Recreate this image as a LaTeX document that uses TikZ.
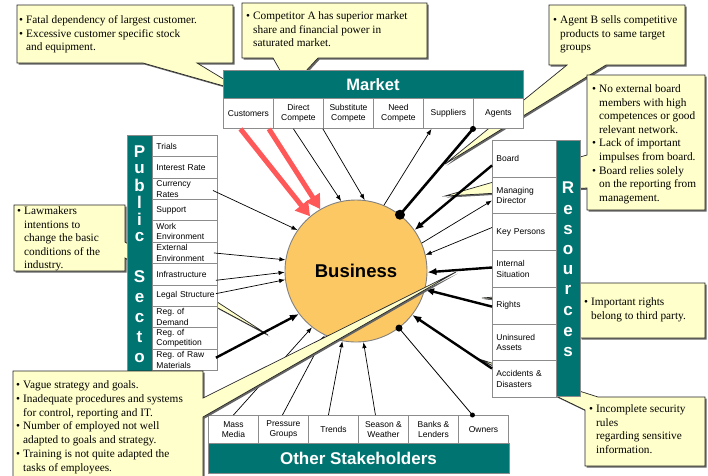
\documentclass[tikz,border=0pt]{standalone}
\usepackage{fontspec}
\setmainfont{Liberation Serif}
\setsansfont{Liberation Sans}
\usetikzlibrary{arrows.meta,calc}
\definecolor{tealbar}{RGB}{0,116,112}
\definecolor{callfill}{RGB}{255,255,204}
\definecolor{bizfill}{RGB}{252,200,100}
\definecolor{redarr}{RGB}{255,88,88}
\definecolor{cellline}{RGB}{140,140,140}
\newcommand\bul{\makebox[7pt][l]{•}}
\newcommand\ind{\hspace*{7pt}}
\frenchspacing
\hyphenpenalty=10000
\tikzset{
  cellbox/.style={draw=cellline, fill=white, line width=0.9pt, inner sep=0pt, anchor=north west,
     font=\sffamily\fontsize{8.5}{10.5}\selectfont, align=center},
  mcell/.style={cellbox, minimum width=50pt, minimum height=30pt},
  pcell/.style={cellbox, minimum width=65pt, minimum height=21.36pt, text width=57pt, align=left, inner xsep=4pt},
  rcell/.style={cellbox, minimum width=64pt, minimum height=36.7pt, text width=56pt, align=left, inner xsep=4pt},
  scell/.style={cellbox, minimum width=50pt, minimum height=28pt},
  bar/.style={draw=cellline, fill=tealbar, line width=0.9pt},
  bartitle/.style={text=white, font=\sffamily\bfseries\fontsize{16.5}{17}\selectfont, inner sep=0pt},
  vlet/.style={text=white, font=\sffamily\bfseries\fontsize{17}{17}\selectfont, inner sep=0pt},
  callout/.style={fill=callfill, draw=black!85, line width=0.7pt},
  callshadow/.style={fill=black!60, draw=none, shift={(1.6,1.6)}},
  ctext/.style={font=\fontsize{11.3}{13.6}\selectfont, align=left, inner sep=0pt, anchor=north west},
  thinarrow/.style={line width=0.7pt, -{Latex[length=6pt,width=4.5pt]}},
  thinplain/.style={line width=0.8pt},
  thickarrow/.style={line width=2.4pt, -{Latex[length=9pt,width=7.5pt]}},
  thickplain/.style={line width=2.6pt},
  redarrow/.style={draw=redarr, line width=5pt, -{Triangle[length=14pt,width=16pt]}},
  dotend/.style={circle, fill=black, inner sep=0pt, minimum size=#1},
}
\begin{document}
\hyphenpenalty=10000
\begin{tikzpicture}[x=1pt,y=-1pt]
\useasboundingbox (0,0) rectangle (708,475);

% ---------- callouts behind the frame ----------
% C1 customers
\path[callshadow] (17,5) -- (233,5) -- (233,63) -- (197,63) -- (245,92) -- (143,63) -- (17,63) -- cycle;
\path[callout] (17,5) -- (233,5) -- (233,63) -- (197,63) -- (245,92) -- (143,63) -- (17,63) -- cycle;
\node[ctext] (t1) at (19,15.5) {\bul Fatal dependency of largest customer.\\\bul Excessive customer specific stock\\\ind and equipment.};
% C2 competitor
\path[callshadow] (242,3) -- (427,3) -- (427,58) -- (318,58) -- (290,88) -- (273,58) -- (242,58) -- cycle;
\path[callout] (242,3) -- (427,3) -- (427,58) -- (318,58) -- (290,88) -- (273,58) -- (242,58) -- cycle;
\node[ctext] (t2) at (246,11.5) {\bul Competitor A has superior market\\\ind share and financial power in\\\ind saturated market.};
% C3 agent
\path[callshadow] (549,5) -- (685,5) -- (685,65) -- (606,65) -- (445,164) -- (567,65) -- (549,65) -- cycle;
\path[callout] (549,5) -- (685,5) -- (685,65) -- (606,65) -- (445,164) -- (567,65) -- (549,65) -- cycle;
\node[ctext] (t3) at (553,15.5) {\bul Agent B sells competitive\\\ind products to same target\\\ind groups};
% C4 board
\path[callshadow] (587,75) -- (705,75) -- (705,210) -- (587,210) -- (587,188) -- (445,196) -- (587,155) -- cycle;
\path[callout] (587,75) -- (705,75) -- (705,210) -- (587,210) -- (587,188) -- (445,196) -- (587,155) -- cycle;
\node[ctext] (t4) at (592,84.5) {\bul No external board\\\ind members with high\\\ind competences or good\\\ind relevant network.\\\bul Lack of important\\\ind impulses from board.\\\bul Board relies solely\\\ind on the reporting from\\\ind management.};
% Lawmakers
\path[callshadow] (14,205) -- (125,205) -- (125,242) -- (268,335) -- (125,258) -- (125,271) -- (14,271) -- cycle;
\path[callout] (14,205) -- (125,205) -- (125,242) -- (268,335) -- (125,258) -- (125,271) -- (14,271) -- cycle;
\node[ctext] (t5) at (17,206.5) {\bul Lawmakers\\\ind intentions to\\\ind change the basic\\\ind conditions of the\\\ind industry.};
% Important rights
\path[callshadow] (580,283) -- (705,283) -- (705,338) -- (580,338) -- (580,303) -- (482,298) -- (580,290) -- cycle;
\path[callout] (580,283) -- (705,283) -- (705,338) -- (580,338) -- (580,303) -- (482,298) -- (580,290) -- cycle;
\node[ctext] (t6) at (584,297.5) {\bul Important rights\\\ind belong to third party.};
% Incomplete security
\path[callshadow] (598,397) -- (705,397) -- (705,466) -- (585,466) -- (585,410) -- (479,359) -- cycle;
\path[callout] (598,397) -- (705,397) -- (705,466) -- (585,466) -- (585,410) -- (479,359) -- cycle;
\node[ctext] (t7) at (589,404.5) {\bul Incomplete security\\\ind rules\\\ind regarding sensitive\\\ind information.};

% ---------- Market ----------
\path[bar] (223,70) rectangle (523,98);
\node[bartitle] (mkt) at (373,84.5) {Market};
\node[mcell] (mk1) at (223,98) {Customers};
\node[mcell] (mk2) at (273,98) {Direct\\Compete};
\node[mcell] (mk3) at (323,98) {Substitute\\Compete};
\node[mcell] (mk4) at (373,98) {Need\\Compete};
\node[mcell] (mk5) at (423,98) {Suppliers};
\node[mcell] (mk6) at (473,98) {Agents};

% ---------- Public sector ----------
\path[bar] (127,135) rectangle (152,400);
\node[pcell] (ps1) at (152,135) {Trials};
\node[pcell] (ps2) at (152,156.36) {Interest Rate};
\node[pcell] (ps3) at (152,177.72) {Currency\\Rates};
\node[pcell] (ps4) at (152,199.08) {Support};
\node[pcell] (ps5) at (152,220.44) {Work\\Environment};
\node[pcell] (ps6) at (152,241.80) {External\\Environment};
\node[pcell] (ps7) at (152,263.16) {Infrastructure};
\node[pcell] (ps8) at (152,284.52) {\mbox{Legal Structure}};
\node[pcell] (ps9) at (152,305.88) {Reg. of\\Demand};
\node[pcell] (ps10) at (152,327.24) {Reg. of\\Competition};
\node[pcell] (ps11) at (152,348.60) {Reg. of Raw\\Materials};
\node[vlet] (pv1) at (139.5,152) {P};
\node[vlet] (pv2) at (139.5,169) {u};
\node[vlet] (pv3) at (139.5,185) {b};
\node[vlet] (pv4) at (139.5,202) {l};
\node[vlet] (pv5) at (139.5,219) {i};
\node[vlet] (pv6) at (139.5,237) {c};
\node[vlet] (pv7) at (139.5,277) {S};
\node[vlet] (pv8) at (139.5,298) {e};
\node[vlet] (pv9) at (139.5,318) {c};
\node[vlet] (pv10) at (139.5,337) {t};
\node[vlet] (pv11) at (139.5,358) {o};

% ---------- Resources ----------
\path[bar] (556,140) rectangle (580,396);
\node[rcell] (rs1) at (492,140) {Board};
\node[rcell] (rs2) at (492,176.7) {Managing\\Director};
\node[rcell] (rs3) at (492,213.4) {Key Persons};
\node[rcell] (rs4) at (492,250.1) {Internal\\Situation};
\node[rcell] (rs5) at (492,286.8) {Rights};
\node[rcell] (rs6) at (492,323.5) {Uninsured\\Assets};
\node[rcell] (rs7) at (492,360.2) {Accidents \&\\Disasters};
\node[vlet] (rv1) at (568,188) {R};
\node[vlet] (rv2) at (568,210) {e};
\node[vlet] (rv3) at (568,230) {s};
\node[vlet] (rv4) at (568,250) {o};
\node[vlet] (rv5) at (568,270) {u};
\node[vlet] (rv6) at (568,290) {r};
\node[vlet] (rv7) at (568,311) {c};
\node[vlet] (rv8) at (568,332) {e};
\node[vlet] (rv9) at (568,352) {s};

% ---------- Other stakeholders ----------
\path[bar] (208,443) rectangle (509,473);
\node[bartitle, font=\sffamily\bfseries\fontsize{17}{18}\selectfont] (oth) at (358.5,458) {Other Stakeholders};
\node[scell] (sh1) at (208,415) {Mass\\Media};
\node[scell] (sh2) at (258,415) {Pressure\\Groups};
\node[scell] (sh3) at (308,415) {Trends};
\node[scell] (sh4) at (358,415) {Season \&\\Weather};
\node[scell] (sh5) at (408,415) {Banks \&\\Lenders};
\node[scell] (sh6) at (458,415) {Owners};

% ---------- Business ----------
\node[circle, draw=gray, fill=bizfill, line width=0.9pt, minimum size=142pt, inner sep=0pt,
      font=\sffamily\bfseries\fontsize{18.5}{20}\selectfont] (biz) at (356,271) {Business};

% ---------- connectors ----------
% market
\draw[redarrow] ([xshift=-8pt]mk1.south) -- (biz.130);
\draw[redarrow] ([xshift=-5pt]mk1.south east) -- (biz.120);
\draw[thinarrow] ([xshift=-5pt]mk2.south) -- (biz.102);
\draw[thinarrow] ([xshift=-1pt]mk2.south east) -- (biz.83);
\draw[thinarrow] (biz.67) -- ([xshift=-17pt]mk5.south);
\draw[thickplain] (mk6.south west) -- (biz.52);
\node[dotend=6pt] (d1) at (mk6.south west) {};
\node[dotend=10pt] (d2) at (biz.52) {};
% resources
\draw[thickarrow] ([yshift=-6.6pt]rs1.west) -- (biz.35);
\draw[thinarrow] (biz.23) -- ([yshift=-5pt]rs2.west);
\draw[thinarrow] ([yshift=4.7pt]rs3.west) -- (biz.13);
\draw[thickarrow] ([yshift=1.4pt]rs4.west) -- (biz.-1);
\draw[thickarrow] ([yshift=-1pt]rs5.west) -- (biz.-15);
\draw[thickarrow] ([yshift=10.5pt]rs7.west) -- (biz.-38);
% stakeholders
\draw[thinarrow] (sh1.north) -- (biz.-128);
\draw[thinarrow] ([xshift=-1pt]sh2.north) -- (biz.-116);
\draw[thinarrow] ([xshift=-5pt]sh3.north) -- (biz.-101);
\draw[thinarrow] ([xshift=-8pt]sh4.north) -- (biz.-84);
\draw[thinplain] ([xshift=-11pt]sh6.north) -- (biz.-53);
\node[dotend=5pt] (d3) at ([xshift=-11pt]sh6.north) {};
\node[dotend=7pt] (d4) at (biz.-53) {};
% public sector
\draw[thinarrow] ([xshift=-5pt,yshift=-1.6pt]ps3.east) -- (biz.145);
\draw[thinarrow] ([xshift=-4pt]ps6.east) -- (biz.171);
\draw[thinarrow] ([xshift=-2pt,yshift=-6pt]ps7.east) -- (biz.181.6);
\draw[thinarrow] ([xshift=-2pt,yshift=2pt]ps8.east) -- (biz.187);
\draw[thickarrow] ([xshift=-2pt,yshift=2pt]ps11.east) -- (biz.217);

% ---------- Vague strategy callout (on top) ----------
\path[callshadow] (13,371) -- (203,371) -- (203,398) -- (456,272) -- (203,417) -- (203,480) -- (13,480) -- cycle;
\path[callout] (13,371) -- (203,371) -- (203,398) -- (456,272) -- (203,417) -- (203,480) -- (13,480) -- cycle;
\node[ctext, font=\fontsize{11.3}{13.8}\selectfont] (t8) at (16,380.5) {\bul Vague strategy and goals.\\\bul Inadequate procedures and systems\\\ind for control, reporting and IT.\\\bul Number of employed not well\\\ind adapted to goals and strategy.\\\bul Training is not quite adapted the\\\ind tasks of employees.};
\end{tikzpicture}
\end{document}
